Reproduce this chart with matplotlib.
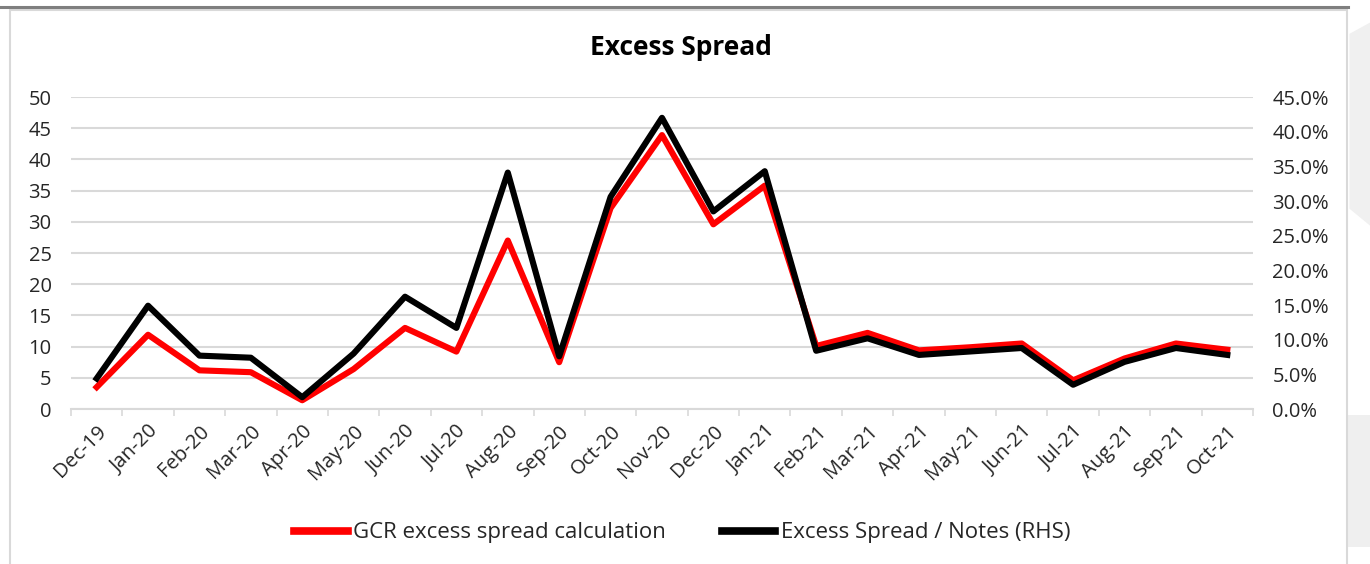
import matplotlib.pyplot as plt
from matplotlib.patches import Rectangle, Polygon
from matplotlib.lines import Line2D
from matplotlib.ticker import FuncFormatter, MultipleLocator

months = [
    "Dec-19", "Jan-20", "Feb-20", "Mar-20", "Apr-20", "May-20", "Jun-20",
    "Jul-20", "Aug-20", "Sep-20", "Oct-20", "Nov-20", "Dec-20", "Jan-21",
    "Feb-21", "Mar-21", "Apr-21", "May-21", "Jun-21", "Jul-21", "Aug-21",
    "Sep-21", "Oct-21"
]

# GCR excess spread calculation (left axis)
gcr_spread = [
    3.5, 11.9, 6.2, 5.9, 1.4, 6.4, 13.0,
    9.2, 27.0, 7.5, 32.2, 43.9, 29.6, 35.8,
    10.1, 12.2, 9.4, 9.9, 10.5, 4.6, 8.1,
    10.5, 9.5
]

# Excess spread / notes in % (right axis)
spread_notes = [
    4.4, 14.9, 7.7, 7.4, 1.7, 8.0, 16.2,
    11.7, 34.1, 7.6, 30.6, 42.0, 28.5, 34.3,
    8.4, 10.2, 7.8, 8.3, 8.8, 3.5, 6.8,
    8.8, 7.8
]

plt.rcParams["font.family"] = ["Open Sans", "DejaVu Sans"]

fig = plt.figure(figsize=(13.7, 5.64), dpi=100)
fig.patch.set_facecolor("white")

# page decoration behind the chart box
fig.patches.append(Polygon([[0.985, 0.94], [1.0, 0.96], [1.0, 0.60], [0.985, 0.63]],
                           closed=True, transform=fig.transFigure,
                           facecolor="#f0f0f0", edgecolor="none", zorder=0))
fig.patches.append(Rectangle((0.984, 0.03), 0.016, 0.235, transform=fig.transFigure,
                             facecolor="#efefef", edgecolor="none", zorder=0))
fig.patches.append(Rectangle((0.0073, -0.05), 0.976, 1.032, transform=fig.transFigure,
                             facecolor="white", edgecolor="#d9d9d9", lw=1.5, zorder=1))
fig.lines.append(Line2D([0, 0.984], [0.988, 0.988], transform=fig.transFigure,
                        color="#7f7f7f", lw=2.2, zorder=2))

ax = fig.add_axes([0.0518, 0.2748, 0.8628, 0.5532])
ax.set_zorder(3)
ax.patch.set_alpha(0)

x = list(range(len(months)))

ax.plot(x, gcr_spread, color="#ff0000", lw=4.4, zorder=3,
        label="GCR excess spread calculation")
ax.set_ylim(0, 50)
ax.set_xlim(-0.5, len(months) - 0.5)
ax.yaxis.set_major_locator(MultipleLocator(5))
ax.grid(axis="y", color="#d9d9d9", lw=1.5)
ax.set_axisbelow(True)

for side in ["top", "right", "left"]:
    ax.spines[side].set_visible(False)
ax.spines["bottom"].set_color("#d9d9d9")
ax.spines["bottom"].set_linewidth(1.5)

ax.set_xticks(x)
ax.set_xticklabels(months, rotation=45, ha="right", va="top",
                   rotation_mode="anchor", fontsize=14.5)
ax.set_xticks([i - 0.5 for i in range(len(months) + 1)], minor=True)
ax.tick_params(axis="x", which="major", length=0, pad=9, colors="#262626")
ax.tick_params(axis="x", which="minor", length=5, width=1.2, color="#d9d9d9")
ax.tick_params(axis="y", length=0, pad=14, labelsize=14.5, colors="#262626")

ax2 = ax.twinx()
ax2.plot(x, spread_notes, color="black", lw=4.4,
         label="Excess Spread / Notes (RHS)")
ax2.set_ylim(0, 45)
ax2.yaxis.set_major_locator(MultipleLocator(5))
ax2.yaxis.set_major_formatter(FuncFormatter(lambda v, p: f"{v:.1f}%"))
ax2.tick_params(axis="y", length=0, pad=14, labelsize=14.5, colors="#262626")
for side in ax2.spines:
    ax2.spines[side].set_visible(False)

fig.text(0.497, 0.915, "Excess Spread", ha="center", va="center",
         fontsize=19, fontweight="bold", color="black")

handles = [ax.get_lines()[0], ax2.get_lines()[0]]
leg = fig.legend(handles, [h.get_label() for h in handles], loc="center",
                 bbox_to_anchor=(0.498, 0.055), ncol=2, frameon=False,
                 fontsize=16, handlelength=2.4, handletextpad=0.25,
                 columnspacing=2.5)
for t in leg.get_texts():
    t.set_color("#262626")
for line in leg.get_lines():
    line.set_linewidth(5.5)

fig.savefig("out.png", dpi=100, facecolor="white")
